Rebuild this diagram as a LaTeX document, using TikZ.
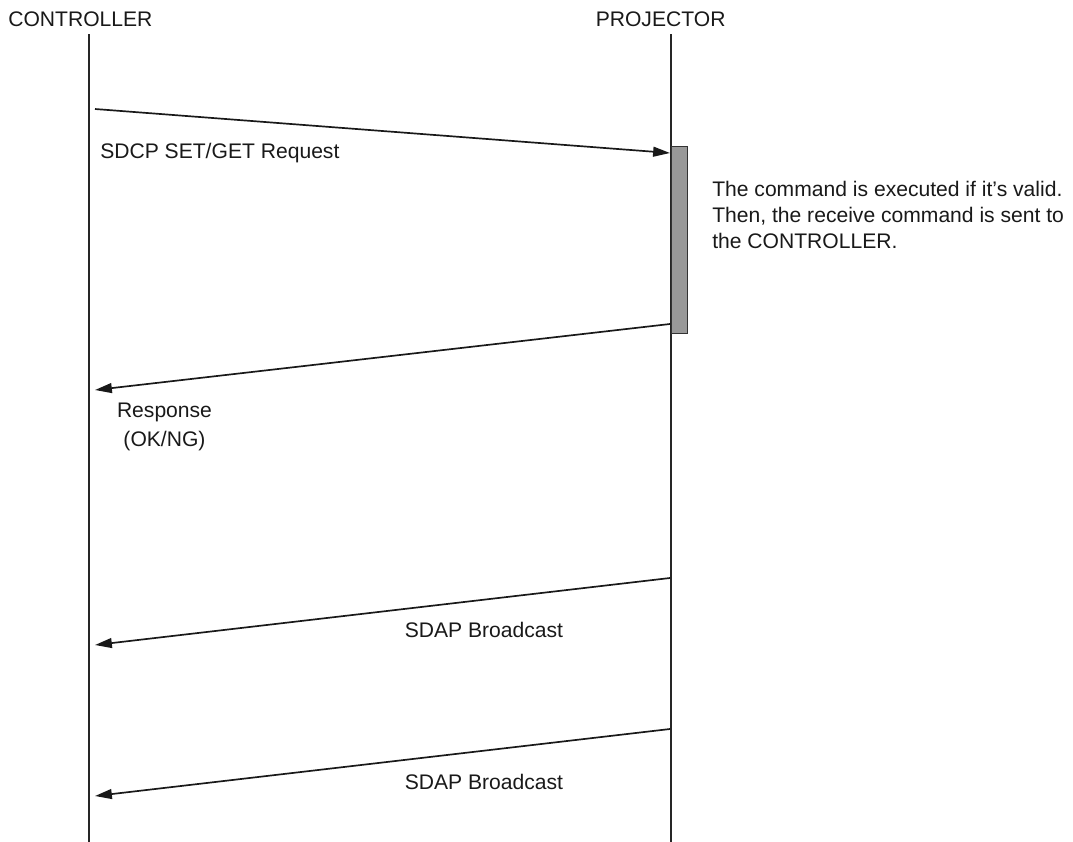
\documentclass[tikz,border=0pt]{standalone}
\usepackage{fontspec}
\setmainfont{Liberation Sans}
\usepackage{tikz}
\usetikzlibrary{arrows.meta}

\begin{document}
\begin{tikzpicture}[
    x=0.025cm, y=-0.025cm,
    every node/.style={font=\fontsize{15}{18.5}\selectfont, text=black!90, inner sep=0pt},
    lifeline/.style={draw=black!85, line width=0.9pt},
    msg/.style={-{Triangle[length=12pt, width=7pt]}, draw=black!90, line width=1.2pt},
    actbar/.style={draw=black!80, fill=black!40, line width=0.7pt, minimum width=16*0.025cm, minimum height=187*0.025cm}
  ]
  \useasboundingbox (0,0) rectangle (1073,842);
  % Lifelines
  \node[anchor=base west] (ctrl) at (8,26) {CONTROLLER};
  \node[anchor=base west] (proj) at (595.5,26) {PROJECTOR};
  \coordinate (ctrl top) at (89,34);
  \coordinate (ctrl bot) at (89,842);
  \coordinate (proj top) at (671,34);
  \coordinate (proj bot) at (671,842);
  \draw[lifeline] (ctrl top) -- (ctrl bot);
  \draw[lifeline] (proj top) -- (proj bot);
  
  % Activation of the projector
  \node[actbar] (act) at (679,239.5) {};
  \node[anchor=north west, align=left] (note) at (712,180.5) {The command is executed if it’s valid.\\Then, the receive command is sent to\\the CONTROLLER.};
  
  % Messages
  \coordinate (req s) at (95,109);
  \coordinate (req e) at (670,153);
  \coordinate (res s) at (670,324);
  \coordinate (res e) at (95,390);
  \coordinate (bc1 s) at (670,578);
  \coordinate (bc1 e) at (95,645);
  \coordinate (bc2 s) at (670,729);
  \coordinate (bc2 e) at (95,796);
  
  \draw[msg] (req s) -- (req e);
  \draw[msg] (res s) -- (res e);
  \draw[msg] (bc1 s) -- (bc1 e);
  \draw[msg] (bc2 s) -- (bc2 e);
  
  \node[anchor=base west] (req label) at (100,158) {SDCP SET/GET Request};
  \node[anchor=north, align=center, font=\fontsize{15}{20.6}\selectfont] (res label) at (164.5,402.5) {Response\\(OK/NG)};
  \node[anchor=base] (bc1 label) at (484,637.5) {SDAP Broadcast};
  \node[anchor=base] (bc2 label) at (484,789.5) {SDAP Broadcast};
  
\end{tikzpicture}
\end{document}
